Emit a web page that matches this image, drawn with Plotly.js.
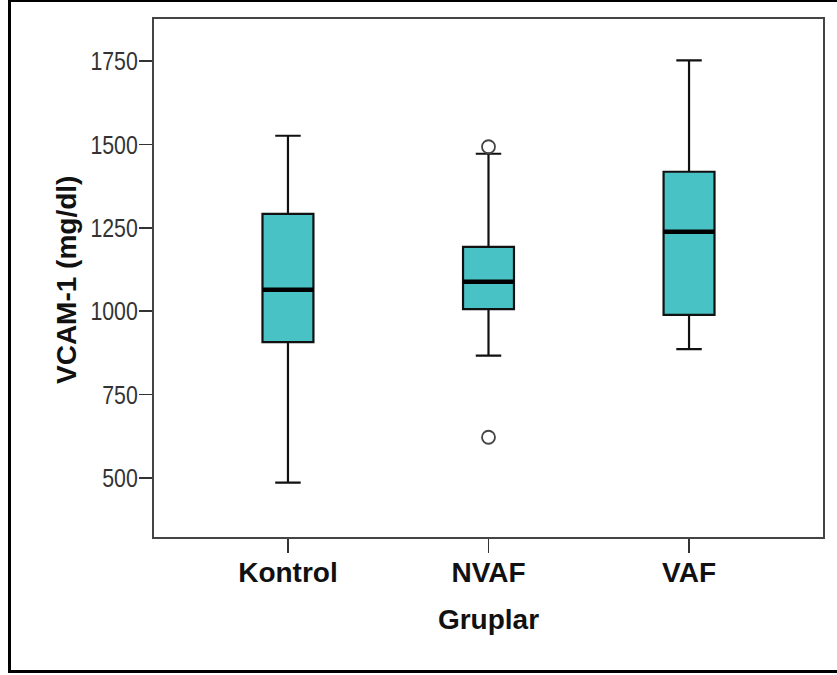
<!DOCTYPE html>
<html>
<head>
<meta charset="utf-8">
<script src="https://cdn.plot.ly/plotly-3.0.1.min.js"></script>
<style>
  html, body { margin: 0; padding: 0; background: #fff; overflow: hidden; }
  #wrap { position: relative; width: 837px; height: 675px; }
  #chart { position: absolute; left: 0; top: 0; width: 837px; height: 675px; }
  #frame { position: absolute; left: 8px; top: -1px; width: 900px; height: 674px;
           box-sizing: border-box; border: 3px solid #000; pointer-events: none; }
</style>
</head>
<body>
<div id="wrap">
  <div id="chart"></div>
  <div id="frame"></div>
</div>
<script>
// Data
const categories = ["Kontrol", "NVAF", "VAF"];
const lowerWhisker = [486, 867, 886];
const q1Values = [907, 1006, 989];
const medianValues = [1064, 1088, 1238];
const q3Values = [1292, 1193, 1418];
const upperWhisker = [1526, 1472, 1752];
const outlierGroups = ["NVAF", "NVAF"];
const outlierValues = [1493, 622];
const yTickValues = [500, 750, 1000, 1250, 1500, 1750];
const xTitle = "Gruplar";
const yTitle = "VCAM-1 (mg/dl)";

const boxWidth = 0.254;
const fillColor = "rgb(72,194,196)";

const boxTrace = {
  type: "box",
  x: categories,
  q1: q1Values,
  median: medianValues,
  q3: q3Values,
  lowerfence: lowerWhisker,
  upperfence: upperWhisker,
  width: boxWidth,
  whiskerwidth: 0.5,
  fillcolor: fillColor,
  line: { color: "#111", width: 2.2 },
  boxpoints: false,
  showlegend: false,
  hoverinfo: "skip"
};

const outlierTrace = {
  type: "scatter",
  mode: "markers",
  x: outlierGroups,
  y: outlierValues,
  marker: { symbol: "circle-open", size: 13, color: "#444", line: { width: 1.8, color: "#444" } },
  showlegend: false,
  hoverinfo: "skip"
};

// Thick median bars, built from the data arrays
const medianShapes = categories.map((c, i) => ({
  type: "line",
  xref: "x", yref: "y",
  x0: i - boxWidth / 2, x1: i + boxWidth / 2,
  y0: medianValues[i], y1: medianValues[i],
  line: { color: "#000", width: 4.5 }
}));

const layout = {
  width: 837,
  height: 675,
  margin: { l: 154, r: 14, t: 19, b: 138 },
  paper_bgcolor: "#fff",
  plot_bgcolor: "#fff",
  showlegend: false,
  xaxis: {
    type: "category",
    range: [-0.668, 2.668],
    showgrid: false,
    zeroline: false,
    showline: true,
    mirror: true,
    linecolor: "#444",
    linewidth: 2,
    ticks: "outside",
    ticklen: 14,
    tickwidth: 1.5,
    tickcolor: "#333",
    ticklabelstandoff: -5,
    tickfont: { family: "Liberation Sans, Arial, sans-serif", size: 28, color: "#111", weight: "bold" },
    title: {
      text: "<b>" + xTitle + "</b>",
      font: { family: "Liberation Sans, Arial, sans-serif", size: 28, color: "#111" },
      standoff: 23
    },
    automargin: false,
    fixedrange: true
  },
  yaxis: {
    range: [323, 1876],
    tickvals: yTickValues,
    ticktext: yTickValues.map(String),
    showgrid: false,
    zeroline: false,
    showline: true,
    mirror: true,
    linecolor: "#444",
    linewidth: 2,
    ticks: "outside",
    ticklen: 13,
    tickwidth: 1.5,
    tickcolor: "#333",
    ticklabelstandoff: -4,
    tickfont: { family: "Liberation Sans, Arial, sans-serif", size: 26, color: "#333" },
    automargin: false,
    fixedrange: true
  },
  annotations: [{
    text: "<b>" + yTitle + "</b>",
    xref: "paper", yref: "paper",
    x: (66 - 154) / 669, y: (537 - 280) / 518,
    xanchor: "center", yanchor: "middle",
    textangle: -90,
    showarrow: false,
    font: { family: "Liberation Sans, Arial, sans-serif", size: 28, color: "#111" }
  }],
  shapes: medianShapes
};

Plotly.newPlot("chart", [boxTrace, outlierTrace], layout, { displayModeBar: false, staticPlot: true })
  .then(() => {
    // Narrow the y tick labels (the reference uses a narrow face) about their right edge
    document.querySelectorAll("#chart .ytick text").forEach(t => {
      const b = t.getBBox();
      const right = b.x + b.width;
      const cur = t.getAttribute("transform") || "";
      t.setAttribute("transform", cur + " translate(" + right + ",0) scale(0.82,1) translate(" + (-right) + ",0)");
    });
  });
</script>
</body>
</html>
